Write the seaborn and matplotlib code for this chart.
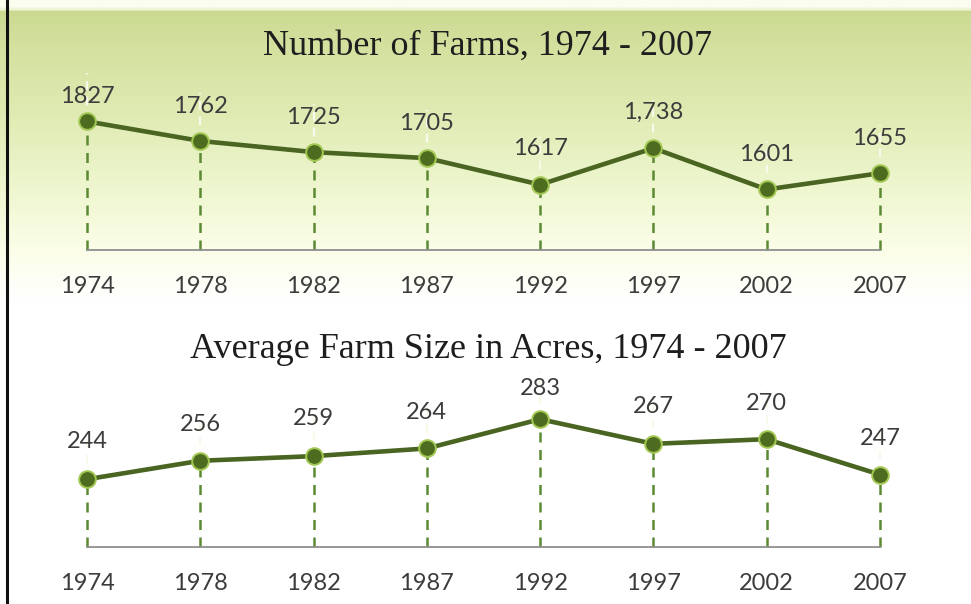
import numpy as np
import pandas as pd
import matplotlib
matplotlib.use("Agg")
import matplotlib.pyplot as plt
import seaborn as sns
from matplotlib.colors import LinearSegmentedColormap

# Census years and values
years = ["1974", "1978", "1982", "1987", "1992", "1997", "2002", "2007"]
farm_counts = [1827, 1762, 1725, 1705, 1617, 1738, 1601, 1655]
farm_count_labels = ["1827", "1762", "1725", "1705", "1617", "1,738", "1601", "1655"]
avg_sizes = [244, 256, 259, 264, 283, 267, 270, 247]
avg_size_labels = ["244", "256", "259", "264", "283", "267", "270", "247"]

sns.set_theme(style="white")
plt.rcParams["font.family"] = ["Lato", "DejaVu Sans"]

W, H, DPI = 971, 604, 100
fig = plt.figure(figsize=(W / DPI, H / DPI), dpi=DPI)

# Slide-style background: green band fading to white
bg = fig.add_axes([0, 0, 1, 1], zorder=-10)
bg.set_axis_off()
grad = LinearSegmentedColormap.from_list(
    "farm_bg",
    [(0.0, "#fbfdf0"), (0.011, "#fbfdf0"), (0.014, "#c9da90"),
     (0.06, "#d2df9c"), (0.20, "#e1ecb6"), (0.33, "#f1f8d4"),
     (0.42, "#fcfeea"), (0.50, "#ffffff"), (1.0, "#ffffff")])
bg.imshow(np.linspace(0, 1, 400).reshape(-1, 1), aspect="auto", cmap=grad,
          extent=[0, 1, 0, 1], origin="upper")
bg.set_xlim(0, 1)
bg.set_ylim(0, 1)
bg.axvline(0.0067, color="#111111", lw=2.2)

LINE = "#4a6421"
FACE = "#4e6c1f"
EDGE = "#a2c853"
DROP = "#5b8a33"
TEXT = "#3c3c3c"


def px_axes(left, top, right, bottom):
    return fig.add_axes([left / W, 1 - bottom / H, (right - left) / W, (bottom - top) / H])


def draw_panel(ax, values, labels, ymin, ymax, title, title_y, offsets):
    x = np.arange(len(values))
    df = pd.DataFrame({"pos": x, "value": values})
    ax.set_facecolor("none")
    ax.set_xlim(0, len(values) - 1)
    ax.set_ylim(ymin, ymax)

    # faint guides above each point and dashed drop lines down to the axis
    span = ymax - ymin
    ax.vlines(x, values, np.array(values) + span * 0.32, colors="#f7faea",
              linestyles=(0, (4, 3)), lw=1.6, zorder=1, clip_on=False)
    ax.vlines(x, ymin, values, colors=DROP, linestyles=(0, (4, 3)), lw=1.8,
              zorder=1, clip_on=False)

    sns.lineplot(data=df, x="pos", y="value", ax=ax, color=LINE, lw=3.3,
                 marker="o", markersize=12, markerfacecolor=FACE,
                 markeredgecolor=EDGE, markeredgewidth=1.4, zorder=3,
                 clip_on=False)

    for xi, v, lab, off in zip(x, values, labels, offsets):
        ax.annotate(lab, (xi, v), xytext=(0, off), textcoords="offset points",
                    ha="center", va="center", fontsize=17, color=TEXT)

    for side in ("top", "right", "left"):
        ax.spines[side].set_visible(False)
    ax.spines["bottom"].set_color("#8f8f8f")
    ax.spines["bottom"].set_linewidth(1.3)
    ax.set_yticks([])
    ax.set_xticks(x)
    ax.set_xticklabels(years)
    ax.tick_params(axis="x", direction="inout", length=11, width=1.2,
                   color="#8f8f8f", pad=13, labelsize=17, labelcolor=TEXT)
    ax.set_xlabel("")
    ax.set_ylabel("")
    fig.text(0.5025, 1 - title_y / H, title, ha="center", va="center",
             fontsize=26, color="#1e1e1e", family=["Liberation Serif", "DejaVu Serif"])


ax1 = px_axes(87, 100, 880, 250)
draw_panel(ax1, farm_counts, farm_count_labels, 1400, 1898,
           "Number of Farms, 1974 - 2007", 46,
           [18, 25, 25, 25, 26, 26, 25, 25])

ax2 = px_axes(87, 397, 880, 547)
draw_panel(ax2, avg_sizes, avg_size_labels, 200, 297.4,
           "Average Farm Size in Acres, 1974 - 2007", 350,
           [27, 26, 27, 26, 22, 27, 26, 26])

fig.savefig("out.png", dpi=DPI)
